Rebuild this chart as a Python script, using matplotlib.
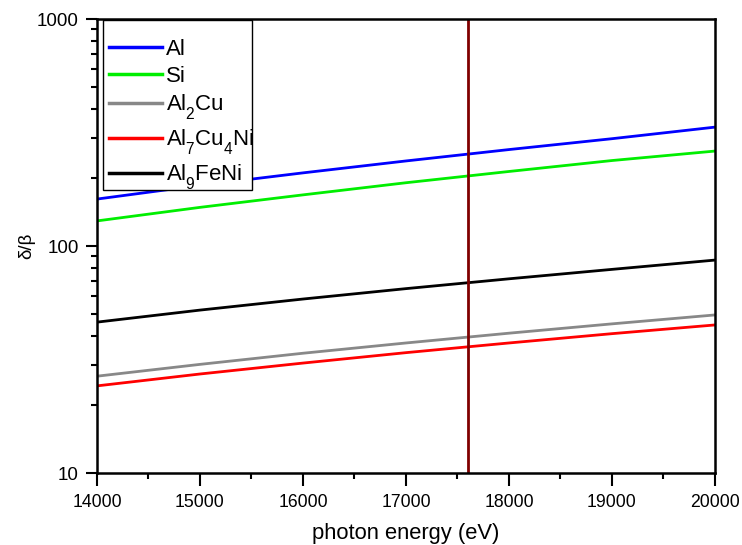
import matplotlib
matplotlib.use("Agg")
import matplotlib.pyplot as plt
from matplotlib.patches import Rectangle
from matplotlib.ticker import LogLocator, NullFormatter, MultipleLocator, FuncFormatter

plt.rcParams['font.family'] = ['Liberation Sans', 'DejaVu Sans']
plt.rcParams['mathtext.fontset'] = 'custom'
plt.rcParams['mathtext.rm'] = 'Liberation Sans'
plt.rcParams['mathtext.it'] = 'Liberation Sans'
plt.rcParams['mathtext.default'] = 'rm'
try:
    import matplotlib._mathtext as _mt
    _mt.FontConstantsBase.sub1 = 0.8
    _mt.FontConstantsBase.script_space = 0.02
except Exception:
    pass

energy = [14000, 15000, 16000, 17000, 18000, 19000, 20000]
al = [161, 185, 210, 237, 266, 297, 334]
si = [129, 148, 168, 190, 213, 238, 262]
al2cu = [26.7, 30.1, 33.7, 37.4, 41.3, 45.4, 49.7]
al7cu4ni = [24.2, 27.3, 30.5, 33.9, 37.4, 41.1, 44.9]
al9feni = [46.2, 52.2, 58.4, 64.9, 71.7, 78.9, 86.7]
marker_energy = 17600

labels = ['Al', 'Si', r'Al$_2$Cu', r'Al$_7$Cu$_4$Ni', r'Al$_9$FeNi']
colors = ['#0000ff', '#00ee00', '#888888', '#ff0000', '#000000']

fig = plt.figure(figsize=(7.42, 5.45), dpi=100)
ax = fig.add_axes([0.1307, 0.1321, 0.8329, 0.8330])

for y, lab, c in zip([al, si, al2cu, al7cu4ni, al9feni], labels, colors):
    ax.plot(energy, y, color=c, lw=2, label=lab)
ax.axvline(marker_energy, color='#800000', lw=2)

ax.set_yscale('log')
ax.set_ylim(10, 1000)
ax.set_xlim(14000, 20000)
ax.xaxis.set_major_locator(MultipleLocator(1000))
ax.xaxis.set_minor_locator(MultipleLocator(500))
ax.yaxis.set_major_locator(LogLocator(base=10))
ax.yaxis.set_minor_locator(LogLocator(base=10, subs=range(2, 10)))
ax.yaxis.set_minor_formatter(NullFormatter())
ax.yaxis.set_major_formatter(FuncFormatter(lambda v, p: f'{int(round(v))}'))

ax.tick_params(which='major', length=8, width=1.5, color='black', pad=5)
ax.tick_params(which='minor', length=4.5, width=1.5)
ax.tick_params(axis='y', which='major', labelsize=13.5)
ax.tick_params(axis='x', which='major', length=9, pad=6, labelsize=12.7)
for s in ax.spines.values():
    s.set_linewidth(1.8)

ax.set_xlabel('photon energy (eV)', fontsize=15.8, labelpad=9)
ax.set_ylabel('δ/β', fontsize=13.5, labelpad=1)

# legend frame
ax.add_patch(Rectangle((0.0097, 0.6233), 0.2411, 0.3745, transform=ax.transAxes,
                       facecolor='white', edgecolor='black', lw=1.0, zorder=4))
leg = ax.legend(loc='upper left', bbox_to_anchor=(0.0194, 0.956), borderaxespad=0.0,
                fontsize=16, frameon=False,
                handlelength=2.4, handleheight=0.7,
                labelspacing=0.255, handletextpad=0.15, borderpad=0.0)
leg.set_zorder(5)
for line in leg.get_lines():
    line.set_linewidth(2.5)

fig.savefig('out.png', dpi=100)
